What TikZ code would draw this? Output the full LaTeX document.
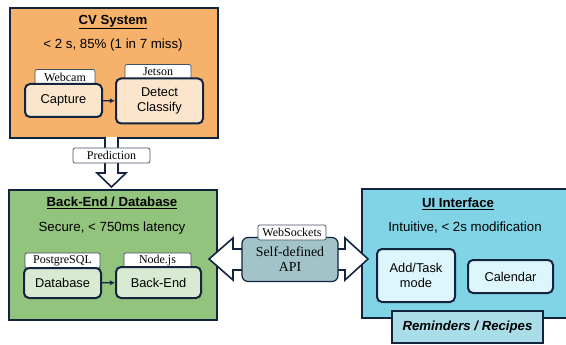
\documentclass[tikz,border=0pt]{standalone}
\usepackage{fontspec}
\setmainfont{Liberation Sans}
\newfontfamily\tagfont{Liberation Serif}
\usetikzlibrary{shapes.arrows,calc,arrows.meta}
\definecolor{navy}{HTML}{13243F}
\definecolor{orangeF}{HTML}{F6B26B}
\definecolor{orangeL}{HTML}{FCE5CD}
\definecolor{greenF}{HTML}{93C47D}
\definecolor{greenL}{HTML}{D9EAD3}
\definecolor{blueF}{HTML}{80D4E6}
\definecolor{blueL}{HTML}{DDF6FB}
\definecolor{apiF}{HTML}{A2C4C9}
\definecolor{remF}{HTML}{A9DEE9}
\tikzset{
  panel/.style={draw=navy, line width=2.2pt},
  inner/.style={draw=navy, line width=2pt, rounded corners=5pt, align=center, font=\fontsize{12.8}{15}\selectfont},
  tagbox/.style={draw=navy!80, line width=0.7pt, fill=white, rounded corners=2pt, font=\tagfont\fontsize{12}{12}\selectfont, inner sep=0pt},
  ttl/.style={font=\bfseries\fontsize{13.2}{15}\selectfont},
  sub/.style={font=\fontsize{13.3}{15}\selectfont},
  conn/.style={draw=navy, line width=1.4pt, -{Latex[length=5pt,width=5pt]}},
  bigarrow/.style={draw=navy, line width=1.6pt, fill=white},
}
\begin{document}
\begin{tikzpicture}[x=1pt,y=-1pt]
\useasboundingbox (0,0) rectangle (566,345);
% ---- panels
\node[panel, fill=orangeF, minimum width=208, minimum height=130, anchor=north west] (cv) at (9,7) {};
\node[panel, fill=greenF, minimum width=208, minimum height=130, anchor=north west] (be) at (8,189) {};
\node[panel, fill=blueF, minimum width=210, minimum height=129, anchor=north west] (ui) at (361,188) {};

% ---- big down arrow
\draw[bigarrow] (105,137) -- (105,173) -- (97,173) -- (111.5,187) -- (126,173) -- (118,173) -- (118,137);
\node[tagbox, minimum width=77, minimum height=15] (pred) at (111.5,155.5) {Prediction};

% ---- double arrow
\draw[bigarrow] (209,259) -- (233,238) -- (233,249) -- (345,249) -- (345,238) -- (368,259) -- (345,280) -- (345,270) -- (233,270) -- (233,280) -- cycle;
\node[draw=navy, line width=1.2pt, fill=apiF, rounded corners=6pt, minimum width=96, minimum height=44, align=center, font=\tagfont\fontsize{13.8}{15}\selectfont, inner sep=0pt] (api) at (290,259.5) {Self-defined\\API};
\node[tagbox, minimum width=68, minimum height=15] (ws) at (292,232.5) {WebSockets};

% ---- CV contents
\node[ttl] (cvt) at (113,22) {\underline{CV System}};
\node[sub] (cvs) at (113,45) {< 2 s, 85\% (1 in 7 miss)};
\node[tagbox, minimum width=60, minimum height=15] (webcam) at (65,77) {Webcam};
\node[tagbox, minimum width=66, minimum height=15] (jetson) at (158,72) {Jetson};
\node[inner, fill=orangeL, minimum width=77, minimum height=33] (cap) at (63.5,100.5) {Capture};
\node[inner, fill=orangeL, minimum width=87, minimum height=45] (det) at (159.5,101) {Detect\\Classify};
\draw[conn] (cap) -- (det);

% ---- Back-end contents
\node[ttl] (bet) at (112,203) {\underline{Back-End / Database}};
\node[sub] (bes) at (112,228) {Secure, < 750ms latency};
\node[tagbox, minimum width=75, minimum height=15] (pg) at (62.5,260.5) {PostgreSQL};
\node[tagbox, minimum width=67, minimum height=15] (node) at (157.5,260.5) {Node.js};
\node[inner, fill=greenL, minimum width=77, minimum height=30] (db) at (62.5,283) {Database};
\node[inner, fill=greenL, minimum width=85, minimum height=31] (bk) at (158.5,282.5) {Back-End};
\draw[conn] (db) -- (bk);

% ---- UI contents
\node[ttl] (uit) at (458,204) {\underline{UI Interface}};
\node[sub] (uis) at (465,228) {Intuitive, < 2s modification};
\node[inner, fill=blueL, minimum width=78, minimum height=53] (add) at (416,275.5) {Add/Task\\mode};
\node[inner, fill=blueL, minimum width=85, minimum height=33] (cal) at (510.5,276.5) {Calendar};
\node[draw=navy, line width=2pt, fill=remF, minimum width=151, minimum height=32, font=\bfseries\itshape\fontsize{13.2}{15}\selectfont] (rem) at (467.5,327) {Reminders / Recipes};
\end{tikzpicture}
\end{document}
